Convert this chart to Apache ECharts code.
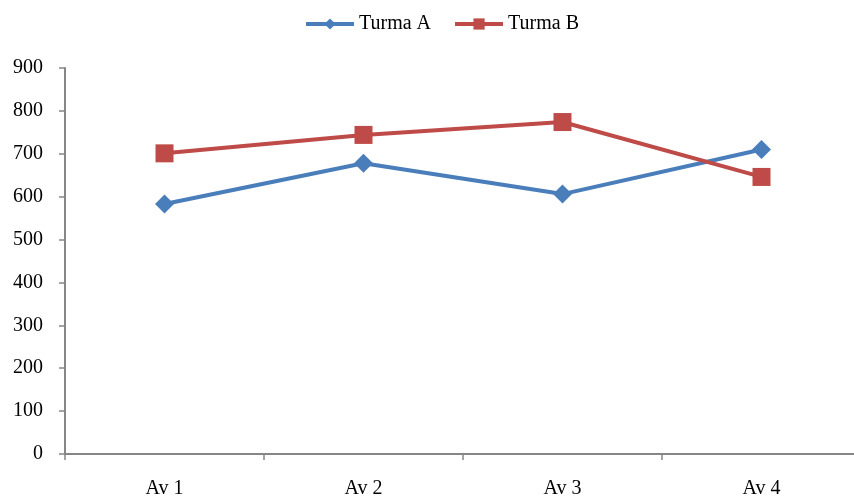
<!DOCTYPE html>
<html><head><meta charset="utf-8">
<script src="https://cdn.jsdelivr.net/npm/echarts@6/dist/echarts.min.js"></script>
<style>html,body{margin:0;padding:0;background:#fff;overflow:hidden;width:854px;height:499px}#c{width:854px;height:499px;overflow:hidden}</style>
</head><body><div id="c"></div>
<script>
const categories = ['Av 1', 'Av 2', 'Av 3', 'Av 4'];
const turmaA = [583, 678, 606, 710];
const turmaB = [701, 744, 774, 646];
const yTicks = [0, 900, 100]; // min, max, interval

const chart = echarts.init(document.getElementById('c'), null, {renderer: 'canvas', width: 861, height: 499});
const font = 'Liberation Serif, Times New Roman, serif';
chart.setOption({
  animation: false,
  backgroundColor: '#fff',
  textStyle: {fontFamily: font},
  legend: {
    top: 14, left: 304, padding: 0, itemWidth: 48, itemHeight: 14, itemGap: 22,
    lineStyle: {width: 4},
    textStyle: {fontFamily: font, fontSize: 20, color: '#000'},
    data: ['Turma A', 'Turma B']
  },
  grid: {left: 65, right: 0, top: 68, bottom: 39, containLabel: false},
  xAxis: {
    type: 'category', data: categories, boundaryGap: true,
    axisLine: {lineStyle: {color: '#868686', width: 2}},
    axisTick: {show: true, length: 6, lineStyle: {color: '#868686', width: 1.5}},
    axisLabel: {color: '#000', fontSize: 20, fontFamily: font, margin: 25}
  },
  yAxis: {
    type: 'value', min: yTicks[0], max: yTicks[1], interval: yTicks[2],
    axisLine: {show: true, lineStyle: {color: '#868686', width: 2}},
    axisTick: {show: true, length: 6, lineStyle: {color: '#868686', width: 1.5}},
    splitLine: {show: false},
    axisLabel: {color: '#000', fontSize: 20, fontFamily: font, margin: 22}
  },
  series: [
    {name: 'Turma A', type: 'line', data: turmaA, symbol: 'diamond', symbolSize: 19,
     color: '#4A7EBB', lineStyle: {width: 4, color: '#4A7EBB'}, itemStyle: {color: '#4A7EBB'}},
    {name: 'Turma B', type: 'line', data: turmaB, symbol: 'rect', symbolSize: 18,
     color: '#BE4B48', lineStyle: {width: 4, color: '#BE4B48'}, itemStyle: {color: '#BE4B48'}}
  ]
});
</script></body></html>
